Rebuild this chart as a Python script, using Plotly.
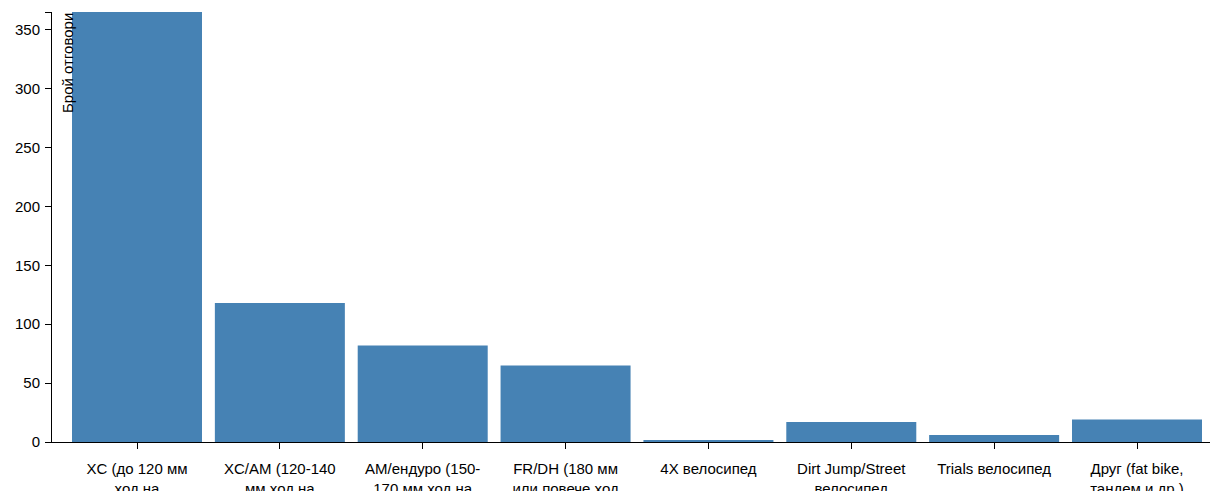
import plotly.graph_objects as go

categories = [
    "XC (до 120 мм<br>ход на",
    "XC/AM (120-140<br>мм ход на",
    "AM/ендуро (150-<br>170 мм ход на",
    "FR/DH (180 мм<br>или повече ход",
    "4X велосипед",
    "Dirt Jump/Street<br>велосипед",
    "Trials велосипед",
    "Друг (fat bike,<br>тандем и др.)",
]
counts = [365, 118, 82, 65, 1, 17, 6, 19]

y_ticks = [0, 50, 100, 150, 200, 250, 300, 350, 365]
y_labels = ["0", "50", "100", "150", "200", "250", "300", "350", ""]

font = dict(family="Liberation Sans, Arial, sans-serif", size=15, color="black")

fig = go.Figure(go.Bar(x=categories, y=counts, marker_color="steelblue",
                       marker_line_width=0))

# the page body adds 8px, so margins are trimmed to keep the plot where it belongs
fig.update_layout(
    template="none",
    width=1218, height=491,
    margin=dict(l=44, r=0, t=4, b=57),
    paper_bgcolor="white", plot_bgcolor="white",
    font=font,
    bargap=0.09,
    showlegend=False,
)
fig.update_xaxes(
    type="category", range=[-0.595, 7.623],
    showline=True, linecolor="black", linewidth=1,
    ticks="outside", ticklen=6, tickcolor="black", ticklabelstandoff=7,
    showgrid=False, zeroline=False, automargin=False, layer="below traces",
)
fig.update_yaxes(
    range=[0, 365], tickvals=y_ticks, ticktext=y_labels,
    showline=True, linecolor="black", linewidth=1,
    ticks="outside", ticklen=6, tickcolor="black", ticklabelstandoff=2,
    showgrid=False, zeroline=False, automargin=False, layer="below traces",
)

# outer tick at the left end of the x axis
fig.add_shape(type="line", xref="paper", x0=0, x1=0, yref="y",
              ysizemode="pixel", yanchor=0, y0=0, y1=-6,
              line=dict(color="black", width=1))

fig.add_annotation(text="Брой отговори", xref="paper", yref="paper",
                   x=0.0128, y=1, xanchor="center", yanchor="top",
                   textangle=-90, showarrow=False, font=font, borderpad=0)

fig.write_html("out.html")
